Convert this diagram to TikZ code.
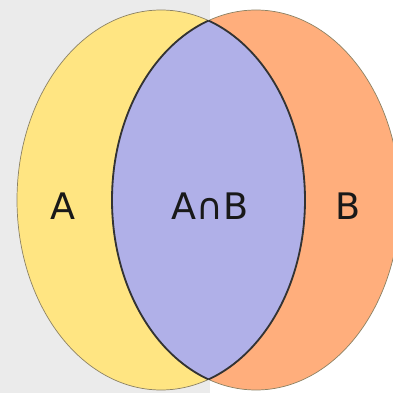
\documentclass[tikz,border=0pt]{standalone}
\usepackage{fontspec}
\setmainfont{DejaVu Sans}
\usepackage{tikz}

\definecolor{setA}{RGB}{255,229,130}
\definecolor{setB}{RGB}{255,174,124}
\definecolor{setAB}{RGB}{176,176,232}
\definecolor{bggray}{RGB}{235,235,235}
\definecolor{rimgray}{RGB}{140,130,100}

\tikzset{
  setlabel/.style={font=\fontsize{26}{30}\selectfont, text=black!90},
  rim/.style={draw=rimgray, line width=0.5pt},
  lens/.style={draw=black!80, line width=1.3pt}
}

\begin{document}
\begin{tikzpicture}[x=0.25mm,y=0.25mm]
\clip (0,0) rectangle (393,393);
\fill[white] (0,0) rectangle (393,393);
\fill[bggray] (0,0) rectangle (210,393);

\filldraw[setA, rim] (161,193) ellipse (144 and 190);
\filldraw[setB, rim] (256,193) ellipse (144 and 190);

\begin{scope}
\clip (161,193) ellipse (144 and 190);
\fill[setAB] (256,193) ellipse (144 and 190);
\draw[lens] (256,193) ellipse (144 and 190);
\end{scope}
\begin{scope}
\clip (256,193) ellipse (144 and 190);
\draw[lens] (161,193) ellipse (144 and 190);
\end{scope}

\node[setlabel] (a) at (63,187) {A};
\node[setlabel] (ab) at (210,187) {A∩B};
\node[setlabel] (b) at (348,187) {B};
\end{tikzpicture}
\end{document}
